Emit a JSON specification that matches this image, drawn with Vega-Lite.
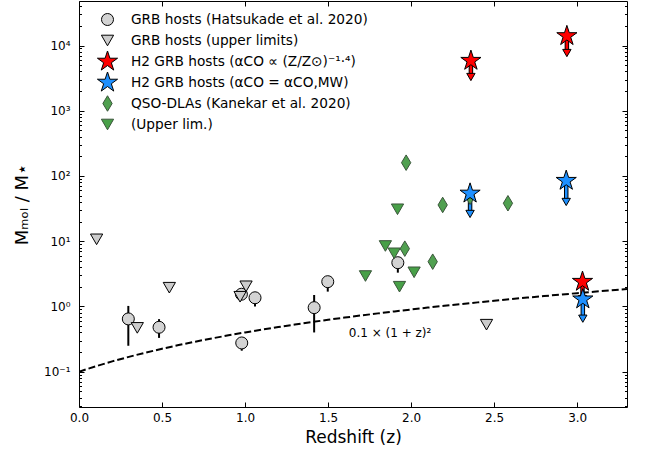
{
  "$schema": "https://vega.github.io/schema/vega-lite/v6.json",
  "width": 548,
  "height": 406,
  "autosize": {"type": "none"},
  "padding": {"left": 79, "top": 1, "right": 22, "bottom": 49},
  "config": {
    "view": {"stroke": null},
    "font": "DejaVu Sans",
    "axis": {"labelFont": "DejaVu Sans", "titleFont": "DejaVu Sans", "domainColor": "black", "tickColor": "black", "labelColor": "black", "titleColor": "black", "grid": false, "titleFontWeight": "normal", "domainWidth": 1, "tickWidth": 1, "labelFlush": false}
  },
  "resolve": {"axis": {"x": "independent", "y": "independent"}},
  "datasets": {
    "pts": [
      {"z": 0.297, "y": 0.645, "lo": 0.25, "hi": 1.02, "series": "GRB hosts (Hatsukade et al. 2020)"},
      {"z": 0.482, "y": 0.48, "lo": 0.33, "hi": 0.64, "series": "GRB hosts (Hatsukade et al. 2020)"},
      {"z": 0.98, "y": 0.276, "lo": 0.21, "hi": 0.31, "series": "GRB hosts (Hatsukade et al. 2020)"},
      {"z": 0.978, "y": 1.54, "series": "GRB hosts (Hatsukade et al. 2020)"},
      {"z": 1.06, "y": 1.36, "lo": 1.0, "hi": 1.6, "series": "GRB hosts (Hatsukade et al. 2020)"},
      {"z": 1.416, "y": 0.96, "lo": 0.4, "hi": 1.5, "series": "GRB hosts (Hatsukade et al. 2020)"},
      {"z": 1.498, "y": 2.4, "lo": 1.69, "hi": 2.93, "series": "GRB hosts (Hatsukade et al. 2020)"},
      {"z": 1.92, "y": 4.69, "lo": 3.3, "hi": 5.68, "series": "GRB hosts (Hatsukade et al. 2020)"},
      {"z": 0.106, "y": 10.7, "series": "GRB hosts (upper limits)"},
      {"z": 0.351, "y": 0.47, "series": "GRB hosts (upper limits)"},
      {"z": 0.544, "y": 1.94, "series": "GRB hosts (upper limits)"},
      {"z": 0.97, "y": 1.41, "series": "GRB hosts (upper limits)"},
      {"z": 1.006, "y": 2.04, "series": "GRB hosts (upper limits)"},
      {"z": 2.454, "y": 0.526, "series": "GRB hosts (upper limits)"},
      {"z": 1.97, "y": 160, "series": "QSO-DLAs (Kanekar et al. 2020)"},
      {"z": 2.19, "y": 36, "series": "QSO-DLAs (Kanekar et al. 2020)"},
      {"z": 1.962, "y": 7.7, "series": "QSO-DLAs (Kanekar et al. 2020)"},
      {"z": 2.13, "y": 4.86, "series": "QSO-DLAs (Kanekar et al. 2020)"},
      {"z": 2.583, "y": 38.2, "series": "QSO-DLAs (Kanekar et al. 2020)"},
      {"z": 2.355, "y": 48, "series": "QSO-DLAs (Kanekar et al. 2020)"},
      {"z": 1.918, "y": 30.9, "series": "(Upper lim.)"},
      {"z": 1.845, "y": 8.46, "series": "(Upper lim.)"},
      {"z": 1.898, "y": 6.53, "series": "(Upper lim.)"},
      {"z": 1.725, "y": 2.93, "series": "(Upper lim.)"},
      {"z": 2.018, "y": 3.34, "series": "(Upper lim.)"},
      {"z": 1.93, "y": 2.01, "series": "(Upper lim.)"},
      {"z": 2.36, "y": 5850, "series": "H2 GRB hosts (αCO ∝ (Z/Z⊙)⁻¹·⁴)"},
      {"z": 2.938, "y": 14000, "series": "H2 GRB hosts (αCO ∝ (Z/Z⊙)⁻¹·⁴)"},
      {"z": 3.032, "y": 2.4, "series": "H2 GRB hosts (αCO ∝ (Z/Z⊙)⁻¹·⁴)"},
      {"z": 2.355, "y": 54, "series": "H2 GRB hosts (αCO = αCO,MW)"},
      {"z": 2.934, "y": 84.7, "series": "H2 GRB hosts (αCO = αCO,MW)"},
      {"z": 3.034, "y": 1.29, "series": "H2 GRB hosts (αCO = αCO,MW)"}
    ],
    "arrows": [
      {"z": 2.36, "y": 5850, "ylow": 3290, "kind": "red"},
      {"z": 2.938, "y": 14000, "ylow": 7670, "kind": "red"},
      {"z": 3.032, "y": 2.4, "ylow": 1.3, "kind": "red"},
      {"z": 2.355, "y": 54, "ylow": 26.2, "kind": "blue"},
      {"z": 2.934, "y": 84.7, "ylow": 40, "kind": "blue"},
      {"z": 3.034, "y": 1.29, "ylow": 0.65, "kind": "blue"}
    ],
    "curve": [
      {"z": 0.0, "y": 0.1}, {"z": 0.1, "y": 0.121}, {"z": 0.2, "y": 0.144}, {"z": 0.3, "y": 0.169},
      {"z": 0.4, "y": 0.196}, {"z": 0.5, "y": 0.225}, {"z": 0.6, "y": 0.256}, {"z": 0.7, "y": 0.289},
      {"z": 0.8, "y": 0.324}, {"z": 0.9, "y": 0.361}, {"z": 1.0, "y": 0.4}, {"z": 1.1, "y": 0.441},
      {"z": 1.2, "y": 0.484}, {"z": 1.3, "y": 0.529}, {"z": 1.4, "y": 0.576}, {"z": 1.5, "y": 0.625},
      {"z": 1.6, "y": 0.676}, {"z": 1.7, "y": 0.729}, {"z": 1.8, "y": 0.784}, {"z": 1.9, "y": 0.841},
      {"z": 2.0, "y": 0.9}, {"z": 2.1, "y": 0.961}, {"z": 2.2, "y": 1.024}, {"z": 2.3, "y": 1.089},
      {"z": 2.4, "y": 1.156}, {"z": 2.5, "y": 1.225}, {"z": 2.6, "y": 1.296}, {"z": 2.7, "y": 1.369},
      {"z": 2.8, "y": 1.444}, {"z": 2.9, "y": 1.521}, {"z": 3.0, "y": 1.6}, {"z": 3.1, "y": 1.681},
      {"z": 3.2, "y": 1.764}, {"z": 3.3, "y": 1.849}
    ],
    "note": [{"z": 1.873, "y": 0.39, "label": "0.1 × (1 + z)²"}]
  },
  "layer": [
    {
      "data": {"name": "curve"},
      "mark": {"type": "line", "color": "black", "strokeWidth": 2, "strokeDash": [7, 3], "clip": true},
      "encoding": {
        "x": {"field": "z", "type": "quantitative", "scale": {"domain": [0, 3.3], "nice": false, "zero": false}, "axis": null},
        "y": {"field": "y", "type": "quantitative", "scale": {"type": "log", "domain": [0.0288, 48100], "nice": false}, "axis": null}
      }
    },
    {
      "data": {"name": "pts"},
      "transform": [{"filter": "isValid(datum.lo)"}],
      "mark": {"type": "rule", "color": "black", "strokeWidth": 2},
      "encoding": {
        "x": {"field": "z", "type": "quantitative", "axis": null},
        "y": {"field": "lo", "type": "quantitative", "axis": null},
        "y2": {"field": "hi"}
      }
    },
    {
      "data": {"name": "arrows"},
      "mark": {"type": "rule", "color": "black", "strokeWidth": 4.5},
      "encoding": {
        "x": {"field": "z", "type": "quantitative", "axis": null},
        "y": {"field": "y", "type": "quantitative", "axis": null},
        "y2": {"field": "ylow"}
      }
    },
    {
      "data": {"name": "arrows"},
      "transform": [{"filter": "datum.kind == 'red'"}],
      "mark": {"type": "rule", "strokeWidth": 2.5, "color": "#ff0000"},
      "encoding": {
        "x": {"field": "z", "type": "quantitative", "axis": null},
        "y": {"field": "y", "type": "quantitative", "axis": null},
        "y2": {"field": "ylow"}
      }
    },
    {
      "data": {"name": "arrows"},
      "transform": [{"filter": "datum.kind == 'blue'"}],
      "mark": {"type": "rule", "strokeWidth": 2.5, "color": "#1e90ff"},
      "encoding": {
        "x": {"field": "z", "type": "quantitative", "axis": null},
        "y": {"field": "y", "type": "quantitative", "axis": null},
        "y2": {"field": "ylow"}
      }
    },
    {
      "data": {"name": "arrows"},
      "transform": [{"filter": "datum.kind == 'red'"}],
      "mark": {"type": "point", "shape": "triangle-down", "filled": true, "size": 70, "color": "#ff0000", "stroke": "black", "strokeWidth": 1, "opacity": 1},
      "encoding": {
        "x": {"field": "z", "type": "quantitative", "axis": null},
        "y": {"field": "ylow", "type": "quantitative", "axis": null}
      }
    },
    {
      "data": {"name": "arrows"},
      "transform": [{"filter": "datum.kind == 'blue'"}],
      "mark": {"type": "point", "shape": "triangle-down", "filled": true, "size": 70, "color": "#1e90ff", "stroke": "black", "strokeWidth": 1, "opacity": 1},
      "encoding": {
        "x": {"field": "z", "type": "quantitative", "axis": null},
        "y": {"field": "ylow", "type": "quantitative", "axis": null}
      }
    },
    {
      "data": {"name": "pts"},
      "mark": {"type": "point", "filled": true, "strokeWidth": 1, "opacity": 1},
      "encoding": {
        "x": {
          "field": "z", "type": "quantitative",
          "axis": {"orient": "bottom", "values": [0, 0.5, 1, 1.5, 2, 2.5, 3], "format": ".1f", "tickSize": -5, "labelPadding": 10, "labelFontSize": 12, "title": "Redshift (z)", "titleFontSize": 17, "titlePadding": 6}
        },
        "y": {
          "field": "y", "type": "quantitative",
          "axis": {
            "orient": "left",
            "values": [0.1, 1, 10, 100, 1000, 10000],
            "tickSize": -5,
            "labelExpr": "datum.value == 0.1 ? '10⁻¹' : datum.value == 1 ? '10⁰' : datum.value == 10 ? '10¹' : datum.value == 100 ? '10²' : datum.value == 1000 ? '10³' : '10⁴'",
            "labelPadding": 14, "labelFontSize": 12,
            "title": "Mₘₒₗ / M⋆", "titleFontSize": 18, "titlePadding": 12
          }
        },
        "color": {
          "field": "series", "type": "nominal",
          "scale": {
            "domain": ["GRB hosts (Hatsukade et al. 2020)", "GRB hosts (upper limits)", "H2 GRB hosts (αCO ∝ (Z/Z⊙)⁻¹·⁴)", "H2 GRB hosts (αCO = αCO,MW)", "QSO-DLAs (Kanekar et al. 2020)", "(Upper lim.)"],
            "range": ["#d3d3d3", "#cccccc", "#ff0000", "#1e90ff", "#50a050", "#48a048"]
          },
          "legend": {"title": null, "orient": "none", "legendX": 17, "legendY": 8, "padding": 0, "labelFontSize": 13.7, "labelFont": "DejaVu Sans", "labelColor": "black", "labelOffset": 12, "labelLimit": 0, "rowPadding": 0, "clipHeight": 21, "symbolStrokeWidth": 1, "symbolOpacity": 1}
        },
        "shape": {
          "field": "series", "type": "nominal",
          "scale": {
            "domain": ["GRB hosts (Hatsukade et al. 2020)", "GRB hosts (upper limits)", "H2 GRB hosts (αCO ∝ (Z/Z⊙)⁻¹·⁴)", "H2 GRB hosts (αCO = αCO,MW)", "QSO-DLAs (Kanekar et al. 2020)", "(Upper lim.)"],
            "range": ["circle", "triangle-down", "M0,-1L0.2245,-0.309L0.9511,-0.309L0.3633,0.118L0.5878,0.809L0,0.382L-0.5878,0.809L-0.3633,0.118L-0.9511,-0.309L-0.2245,-0.309Z", "M0,-1L0.2245,-0.309L0.9511,-0.309L0.3633,0.118L0.5878,0.809L0,0.382L-0.5878,0.809L-0.3633,0.118L-0.9511,-0.309L-0.2245,-0.309Z", "M0,-1L0.6,0L0,1L-0.6,0Z", "triangle-down"]
          },
          "legend": {"title": null}
        },
        "size": {
          "field": "series", "type": "nominal",
          "scale": {
            "type": "ordinal",
            "domain": ["GRB hosts (Hatsukade et al. 2020)", "GRB hosts (upper limits)", "H2 GRB hosts (αCO ∝ (Z/Z⊙)⁻¹·⁴)", "H2 GRB hosts (αCO = αCO,MW)", "QSO-DLAs (Kanekar et al. 2020)", "(Upper lim.)"],
            "range": [144, 150, 450, 450, 240, 150]
          },
          "legend": {"title": null}
        },
        "stroke": {
          "field": "series", "type": "nominal",
          "scale": {
            "domain": ["GRB hosts (Hatsukade et al. 2020)", "GRB hosts (upper limits)", "H2 GRB hosts (αCO ∝ (Z/Z⊙)⁻¹·⁴)", "H2 GRB hosts (αCO = αCO,MW)", "QSO-DLAs (Kanekar et al. 2020)", "(Upper lim.)"],
            "range": ["black", "black", "black", "black", "#3a553a", "#3a553a"]
          },
          "legend": {"title": null}
        }
      }
    },
    {
      "data": {"name": "pts"},
      "mark": {"type": "point", "opacity": 0},
      "encoding": {
        "x": {
          "field": "z", "type": "quantitative",
          "axis": {"orient": "top", "values": [0, 0.5, 1, 1.5, 2, 2.5, 3], "tickSize": -5, "labels": false, "title": null}
        },
        "y": {
          "field": "y", "type": "quantitative",
          "axis": {"orient": "right", "values": [0.1, 1, 10, 100, 1000, 10000], "tickSize": -5, "labels": false, "title": null}
        }
      }
    },
    {
      "data": {"name": "pts"},
      "mark": {"type": "point", "opacity": 0},
      "encoding": {
        "x": {"field": "z", "type": "quantitative", "axis": null},
        "y": {
          "field": "y", "type": "quantitative",
          "axis": {"orient": "left", "values": [0.03, 0.04, 0.05, 0.06, 0.07, 0.08, 0.09, 0.2, 0.3, 0.4, 0.5, 0.6, 0.7, 0.8, 0.9, 2, 3, 4, 5, 6, 7, 8, 9, 20, 30, 40, 50, 60, 70, 80, 90, 200, 300, 400, 500, 600, 700, 800, 900, 2000, 3000, 4000, 5000, 6000, 7000, 8000, 9000, 20000, 30000, 40000], "tickSize": -2.5, "labels": false, "domain": false, "title": null}
        }
      }
    },
    {
      "data": {"name": "pts"},
      "mark": {"type": "point", "opacity": 0},
      "encoding": {
        "x": {"field": "z", "type": "quantitative", "axis": null},
        "y": {
          "field": "y", "type": "quantitative",
          "axis": {"orient": "right", "values": [0.03, 0.04, 0.05, 0.06, 0.07, 0.08, 0.09, 0.2, 0.3, 0.4, 0.5, 0.6, 0.7, 0.8, 0.9, 2, 3, 4, 5, 6, 7, 8, 9, 20, 30, 40, 50, 60, 70, 80, 90, 200, 300, 400, 500, 600, 700, 800, 900, 2000, 3000, 4000, 5000, 6000, 7000, 8000, 9000, 20000, 30000, 40000], "tickSize": -2.5, "labels": false, "domain": false, "title": null}
        }
      }
    },
    {
      "data": {"name": "note"},
      "mark": {"type": "text", "fontSize": 12, "font": "DejaVu Sans", "color": "black"},
      "encoding": {
        "x": {"field": "z", "type": "quantitative", "axis": null},
        "y": {"field": "y", "type": "quantitative", "axis": null},
        "text": {"field": "label"}
      }
    }
  ]
}
